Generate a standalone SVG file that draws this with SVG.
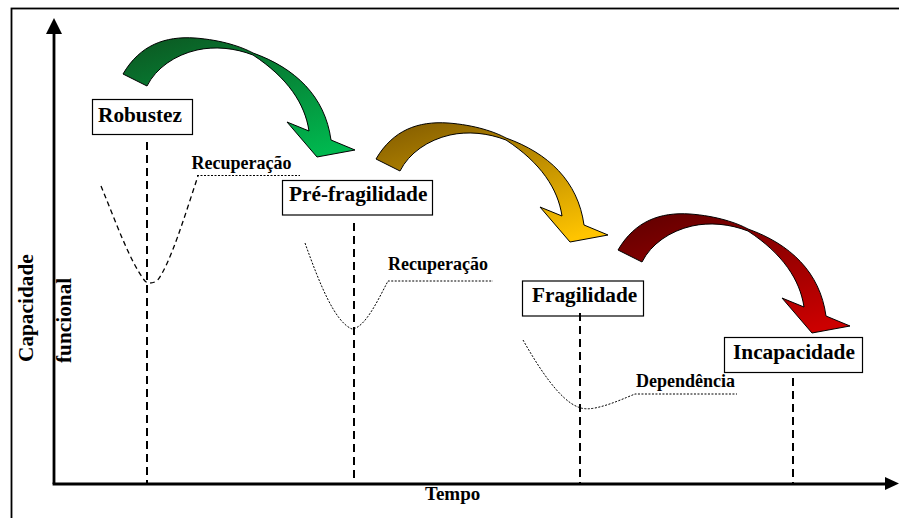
<svg xmlns="http://www.w3.org/2000/svg" xmlns:xlink="http://www.w3.org/1999/xlink" width="899" height="518" viewBox="0 0 899 518">
  <style>
    .box { fill: #fff; stroke: #000; stroke-width: 1.2; }
    .lbl { font-family: "Liberation Serif", "Times New Roman", serif; font-weight: bold; font-size: 21.3px; fill: #000; }
    .small { font-family: "Liberation Serif", "Times New Roman", serif; font-weight: bold; font-size: 18px; fill: #000; }
    .vdash { stroke: #000; stroke-width: 2; stroke-dasharray: 8 5; fill: none; }
    .curveA { stroke: #000; stroke-width: 1.3; stroke-dasharray: 5 3.5; fill: none; }
    .curveB { stroke: #000; stroke-width: 1; stroke-dasharray: 2 1.5; fill: none; }
    .axis { stroke: #000; stroke-width: 2.8; fill: none; }
    .arrow { stroke: #000; stroke-width: 1; stroke-linejoin: miter; }
  </style>
  <defs>
    <linearGradient id="gGreen" x1="0.2" y1="0" x2="0.8" y2="1">
      <stop offset="0" stop-color="#0B5D24"/>
      <stop offset="1" stop-color="#00B84F"/>
    </linearGradient>
    <linearGradient id="gGold" x1="0.2" y1="0" x2="0.8" y2="1">
      <stop offset="0" stop-color="#8A6200"/>
      <stop offset="1" stop-color="#FFC400"/>
    </linearGradient>
    <linearGradient id="gRed" x1="0.2" y1="0" x2="0.8" y2="1">
      <stop offset="0" stop-color="#660000"/>
      <stop offset="1" stop-color="#CC0000"/>
    </linearGradient>
    <path id="curvedArrow" d="M123,74 C140,45 165,36 195,38 C222,40 242,47 253,53 C295,68 325,96 331,140 L355,150 L317,157 L287,122 L309,131 C305,104 288,78 253,55 C235,48 215,46 197,50 C175,55 156,68 147,86 Z"/>
  </defs>

  <rect x="11.5" y="8.5" width="900" height="520" fill="none" stroke="#000" stroke-width="1.8"/>

  <g id="axes">
    <line class="axis" x1="54" y1="484" x2="54" y2="32"/>
    <polygon points="54,18 46,34 62,34" fill="#000"/>
    <line class="axis" x1="52.6" y1="484" x2="887" y2="484"/>
    <polygon points="899,483.5 885,477 885,490" fill="#000"/>
    <text class="lbl" transform="translate(33,362) rotate(-90)">Capacidade</text>
    <text class="lbl" transform="translate(71,363) rotate(-90)">funcional</text>
    <text class="lbl" x="425" y="500" style="font-size:19px">Tempo</text>
  </g>

  <g id="curves">
    <path class="curveA" d="M101,186 C115,220 130,262 145,281 Q149,285 157,281 C170,265 185,215 198,176"/>
    <line class="curveB" x1="197" y1="175.5" x2="300" y2="175.5"/>
    <text class="small" x="191.5" y="169">Recuperação</text>

    <path class="curveB" d="M305,243 C320,285 335,322 352,329 C365,328 378,300 388,281 L493,281"/>
    <text class="small" x="388" y="270">Recuperação</text>

    <path class="curveB" d="M523,340 C540,370 560,400 578,407 Q585,410 595,408 C610,405 625,398 635,394 L737,394"/>
    <text class="small" x="636" y="387">Dependência</text>
  </g>

  <g id="robustez">
    <line class="vdash" x1="147" y1="142" x2="147" y2="484"/>
    <rect class="box" x="92.5" y="99.5" width="100" height="35"/>
    <text class="lbl" x="98" y="122">Robustez</text>
  </g>
  <g id="pre-fragilidade">
    <line class="vdash" x1="354" y1="223" x2="354" y2="484"/>
    <rect class="box" x="282.5" y="180.5" width="150" height="34.5"/>
    <text class="lbl" x="289" y="201">Pré-fragilidade</text>
  </g>
  <g id="fragilidade">
    <rect class="box" x="522.5" y="281" width="121" height="35"/>
    <text class="lbl" x="532" y="302">Fragilidade</text>
    <line class="vdash" x1="580" y1="313" x2="580" y2="484"/>
  </g>
  <g id="incapacidade">
    <line class="vdash" x1="793" y1="378" x2="793" y2="484"/>
    <rect class="box" x="724.5" y="337.5" width="138" height="35"/>
    <text class="lbl" x="733" y="359">Incapacidade</text>
  </g>

  <g id="connectors">
    <use xlink:href="#curvedArrow" class="arrow" fill="url(#gGreen)"/>
    <use xlink:href="#curvedArrow" class="arrow" fill="url(#gGold)" transform="translate(253,85)"/>
    <use xlink:href="#curvedArrow" class="arrow" fill="url(#gRed)" transform="translate(495,176)"/>
  </g>
</svg>
